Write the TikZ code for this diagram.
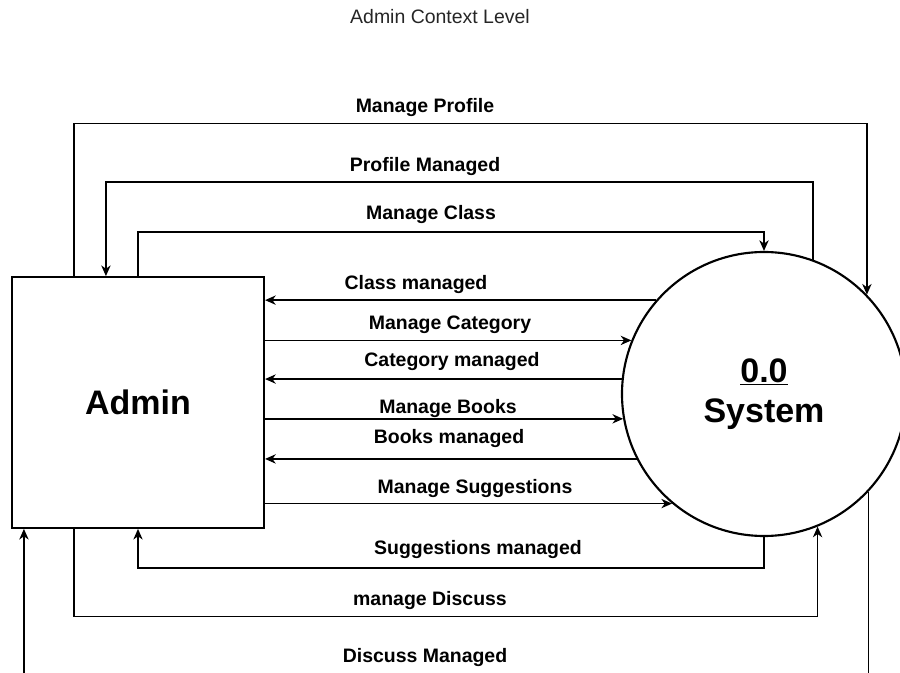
\documentclass[tikz,border=0pt]{standalone}
\usepackage{fontspec}
\setmainfont{Liberation Sans}
\usetikzlibrary{shapes.geometric, arrows.meta, calc}
\tikzstyle{entity} = [
    rectangle,
    minimum width=189pt,
    minimum height=188pt,
    line width=1.6pt,
    draw=black,
    font=\fontsize{25.5}{30}\selectfont\bfseries
]
\tikzstyle{process} = [
    circle,
    minimum size=213pt,
    inner sep=0pt,
    line width=1.6pt,
    draw=black,
    align=center,
    font=\fontsize{25.5}{30}\selectfont\bfseries
]
\tikzstyle{flow} = [
    font=\fontsize{14.6}{17}\selectfont\bfseries
]
\tikzstyle{arrow} = [line width=1pt,-{Stealth[length=8pt,width=7pt,inset=2.5pt]}]

\begin{document}
\begin{tikzpicture}[x=0.75pt, y=-0.75pt]

\useasboundingbox (0,0) rectangle (900,673);
\clip (0,0) rectangle (900,673);

\node (title) [font=\fontsize{14.6}{17}\selectfont, text=black!85] at (440,17)
{Admin Context Level};

\node (admin) [entity] at (138,402.5) {Admin};

\node (sys) [process] at (764,394) {\underline{0.0}\\System};

% labels
\node (lprofile) [flow] at (425,108) {Manage Profile};
\node (lprofiled) [flow] at (425,167) {Profile Managed};
\node (lclass) [flow] at (431,215) {Manage Class};
\node (lclassd) [flow] at (416,285) {Class managed};
\node (lcat) [flow] at (450,325) {Manage Category};
\node (lcatd) [flow] at (452,362) {Category managed};
\node (lbooks) [flow] at (448,409) {Manage Books};
\node (lbooksd) [flow] at (449,439) {Books managed};
\node (lsugg) [flow] at (475,489) {Manage Suggestions};
\node (lsuggd) [flow] at (478,550) {Suggestions managed};
\node (ldisc) [flow] at (430,601) {manage Discuss};
\node (ldiscd) [flow] at (425,658) {Discuss Managed};

% flows over the top
\draw [arrow] ($(admin.north west)+(63,0)$) |- ($(sys.44)+(0,-171)$) -- (sys.44);
\draw [arrow] (sys.70) |- ($(admin.north west)+(95,-94)$) -- ($(admin.north west)+(95,0)$);
\draw [arrow] (admin.north) |- ($(sys.north)+(0,-19)$) -- (sys.north);

% straight flows
\draw [arrow] (sys.139) -- (admin.east |- sys.139);
\draw [arrow] (admin.east |- sys.158) -- (sys.158);
\draw [arrow] (sys.174) -- (admin.east |- sys.174);
\draw [arrow] (admin.east |- sys.190) -- (sys.190);
\draw [arrow] (sys.207) -- (admin.east |- sys.207);
\draw [arrow] (admin.east |- sys.230) -- (sys.230);

% flows under the bottom
\draw [arrow] (sys.south) |- ($(admin.south)+(0,39)$) -- (admin.south);
\draw [arrow] ($(admin.south west)+(63,0)$) |- ($(sys.292)+(0,90)$) -- (sys.292);
\draw [arrow] (sys.317) |- ($(admin.south west)+(13,172)$) -- ($(admin.south west)+(13,0)$);

\end{tikzpicture}
\end{document}
